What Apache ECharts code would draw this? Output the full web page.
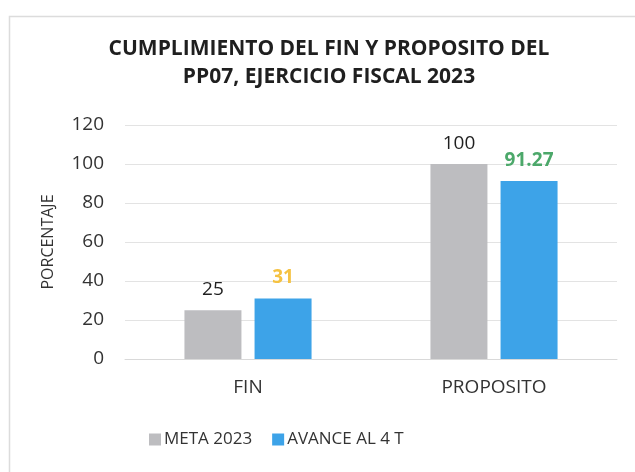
<!DOCTYPE html>
<html>
<head>
<meta charset="utf-8">
<script src="https://cdn.jsdelivr.net/npm/echarts@6/dist/echarts.min.js"></script>
<style>html,body{margin:0;padding:0;background:#fff}#c{width:635px;height:472px}</style>
</head>
<body>
<div id="c"></div>
<script>
const categories = ['FIN', 'PROPOSITO'];
const metaValues = [25, 100];
const avanceValues = [31, 91.27];
const avanceLabelColors = ['#F5C242', '#4CA86A'];
const seriesNames = ['META 2023', 'AVANCE AL 4 T'];
const titleText = 'CUMPLIMIENTO DEL FIN Y PROPOSITO DEL\nPP07, EJERCICIO FISCAL 2023';

const FONT = '"Open Sans", "Noto Sans", sans-serif';
const chart = echarts.init(document.getElementById('c'), null, {renderer: 'canvas'});
chart.setOption({
  backgroundColor: '#fff',
  animation: false,
  graphic: [{
    type: 'rect', left: 7, top: 14, z: -10,
    shape: {width: 640, height: 470},
    style: {fill: 'none', stroke: '#dcdcdc', lineWidth: 1.5}
  }],
  title: {
    text: titleText,
    left: 324, top: 30, textAlign: 'center',
    textStyle: {fontFamily: FONT, fontWeight: 'bold', fontSize: 21, lineHeight: 28, color: '#1f1f1f'}
  },
  legend: {
    data: seriesNames,
    top: 426, left: 144,
    itemWidth: 12, itemHeight: 12, itemGap: 20,
    icon: 'rect',
    textStyle: {fontFamily: FONT, fontSize: 17, color: '#333333', padding: [0, 0, 0, -2]}
  },
  grid: {left: 125, right: 18, top: 125, bottom: 113},
  xAxis: {
    type: 'category', data: categories,
    axisLine: {show: true, lineStyle: {color: '#d9d9d9'}},
    axisTick: {show: false},
    axisLabel: {fontFamily: FONT, fontSize: 19, color: '#333333', margin: 19}
  },
  yAxis: {
    type: 'value', min: 0, max: 120, interval: 20,
    name: 'PORCENTAJE', nameLocation: 'middle', nameGap: 69, nameRotate: 90,
    nameTextStyle: {fontFamily: FONT, fontSize: 16, color: '#333333'},
    axisLine: {show: false}, axisTick: {show: false},
    axisLabel: {fontFamily: FONT, fontSize: 19, color: '#333333', margin: 21},
    splitLine: {lineStyle: {color: '#e3e3e3'}}
  },
  series: [{
    name: seriesNames[0], type: 'bar', data: metaValues,
    barWidth: 57, barGap: '23%',
    itemStyle: {color: '#BDBDC0'},
    label: {show: true, position: 'top', distance: 11, fontFamily: FONT, fontSize: 19, color: '#1f1f1f'}
  }, {
    name: seriesNames[1], type: 'bar',
    data: avanceValues.map((v, i) => ({value: v, label: {color: avanceLabelColors[i]}})),
    barWidth: 57,
    itemStyle: {color: '#3DA3E8'},
    label: {show: true, position: 'top', distance: 11, fontFamily: FONT, fontSize: 19, fontWeight: 'bold'}
  }]
});
</script>
</body>
</html>
